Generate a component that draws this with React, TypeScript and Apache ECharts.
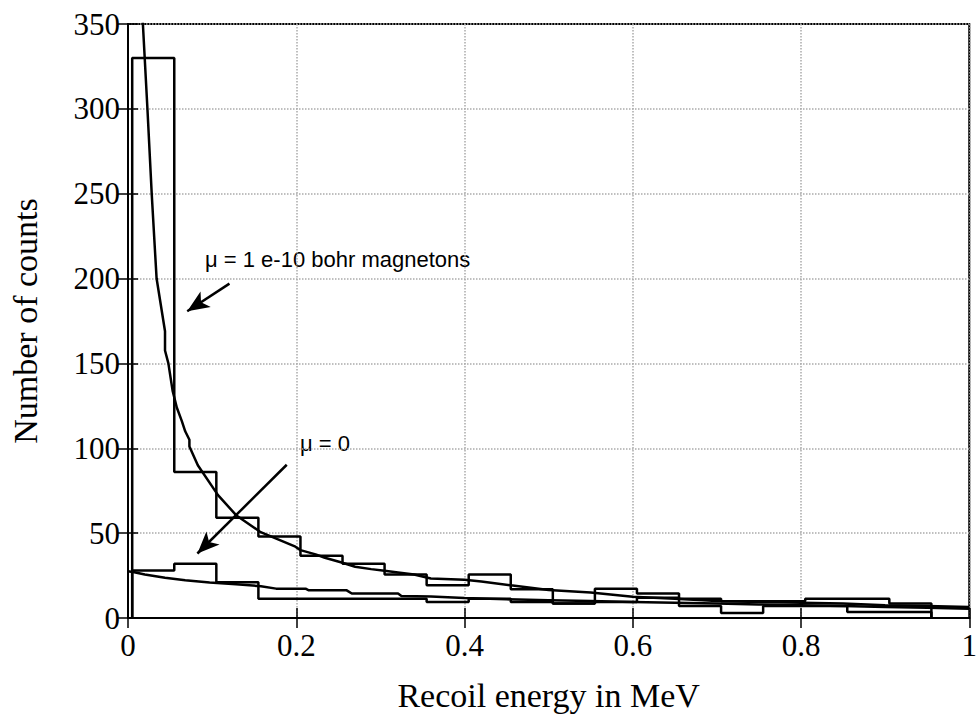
import React, { useEffect, useRef } from "react";
import * as echarts from "echarts";

// Histogram bin edges (MeV) and counts
const binEdges = [0.005, 0.055, 0.105, 0.155, 0.205, 0.255, 0.305, 0.355, 0.405, 0.455, 0.505, 0.555, 0.605, 0.655, 0.705, 0.755, 0.805, 0.855, 0.905, 0.955];
const histMagnetic = [330, 86, 59, 48, 36.7, 32, 25.6, 19.3, 25.6, 17, 8.5, 17.3, 14.4, 11.4, 9.8, 9.8, 11.4, 11.4, 8.5];
const histZero = [28, 32, 21, 11.4, 11.4, 11.4, 11.4, 9.5, 11.4, 9.5, 8.5, 9.5, 12, 7.1, 3, 7.1, 7.1, 3.5, 3.5];

// Theoretical curves
const curveMagX = [0.0145, 0.0177, 0.0232, 0.0283, 0.032, 0.034, 0.044, 0.044, 0.048, 0.053, 0.058, 0.064, 0.068, 0.073, 0.073, 0.083, 0.107, 0.1285, 0.157, 0.199, 0.205, 0.223, 0.234, 0.254, 0.27, 0.289, 0.305, 0.321, 0.34, 0.36, 0.4, 0.42, 0.455, 0.5, 0.55, 0.6, 0.65, 0.7, 0.75, 0.8, 0.85, 0.9, 0.95, 1.0];
const curveMagY = [380, 350, 299, 249, 217, 200, 169, 157.6, 150, 134, 124, 116, 110, 105, 101, 90, 72.4, 60.6, 50.8, 42, 40, 37.5, 35.5, 32.7, 30.2, 28.8, 27.8, 26.8, 25.6, 23.3, 22.5, 21.5, 19.3, 16.5, 15, 12.5, 11.4, 10, 9.5, 9, 8.5, 7.5, 7, 6.5];
const curveZeroX = [0, 0.0075, 0.02, 0.044, 0.068, 0.097, 0.1285, 0.158, 0.176, 0.211, 0.215, 0.26, 0.266, 0.321, 0.325, 0.36, 0.4, 0.45, 0.5, 0.55, 0.6, 0.65, 0.7, 0.75, 0.8, 0.85, 0.9, 0.95, 1.0];
const curveZeroY = [27.5, 27, 25.6, 23.7, 22.3, 20.9, 19.9, 18.7, 17.3, 17.3, 16.3, 16.3, 14.4, 14.4, 13, 12.6, 11.8, 11, 10.5, 10, 9.5, 9, 8.5, 8, 7.5, 7, 6.5, 6, 5.5];

// Annotation arrows [fromX, fromY, toX, toY] in data units
const arrowMag = [0.1206, 197, 0.0704, 180.7];
const arrowZero = [0.1887, 90.3, 0.0825, 38];

const labelMag = "μ = 1 e-10 bohr magnetons";
const labelZero = "μ = 0";

const xTicks = { min: 0, max: 1, interval: 0.2 };
const yTicks = { min: 0, max: 350, interval: 50 };

function stepData(edges: number[], vals: number[]) {
  const pts: number[][] = [];
  const w = edges[1] - edges[0];
  pts.push([edges[0], 0]);
  vals.forEach((v, i) => {
    const x0 = edges[i];
    const x1 = i + 1 < edges.length ? edges[i + 1] : edges[i] + w;
    pts.push([x0, v]);
    pts.push([x1, v]);
  });
  const last = pts[pts.length - 1][0];
  pts.push([last, 0]);
  return pts;
}

const zip = (xs: number[], ys: number[]) => xs.map((x, i) => [x, ys[i]]);

export default function App() {
  const ref = useRef<HTMLDivElement>(null);
  useEffect(() => {
    if (!ref.current) return;
    const chart = echarts.init(ref.current, undefined, { renderer: "svg" });
    const serif = '"Liberation Serif", "Times New Roman", serif';
    const sans = '"Liberation Sans", Arial, sans-serif';
    const gridLine = { show: true, lineStyle: { color: "#aaa", type: [1.5, 1.5] as any, width: 1.5 } };
    const lineStyle = { color: "#000", width: 2.5 };
    const arrowLine = (a: number[]) => [{ coord: [a[0], a[1]] }, { coord: [a[2], a[3]] }];
    chart.setOption({
      animation: false,
      backgroundColor: "#fff",
      grid: { left: 126, right: 6, top: 24, bottom: 98, show: true, borderColor: "#000", borderWidth: 2, backgroundColor: "transparent" },
      xAxis: [
        {
          type: "value", ...xTicks,
          name: "Recoil energy in MeV", nameLocation: "middle", nameGap: 60,
          nameTextStyle: { fontFamily: serif, fontSize: 34, color: "#000" },
          axisLine: { show: true, onZero: false, lineStyle: { color: "#000", width: 2 } },
          axisTick: { show: true, inside: true, length: 10, lineStyle: { color: "#000", width: 1.5 } },
          axisLabel: { fontFamily: serif, fontSize: 31, color: "#000", margin: 12, formatter: (v: number) => String(+v.toFixed(1)) },
          splitLine: gridLine,
        },
        {
          type: "value", ...xTicks, position: "top",
          axisLine: { show: true, lineStyle: { color: "#000", width: 2 } },
          axisTick: { show: true, inside: true, length: 10, lineStyle: { color: "#000", width: 1.5 } },
          axisLabel: { show: false }, splitLine: { show: false },
        },
      ],
      yAxis: [
        {
          type: "value", ...yTicks,
          name: "Number of counts", nameLocation: "middle", nameGap: 86,
          nameTextStyle: { fontFamily: serif, fontSize: 34, color: "#000" },
          axisLine: { show: true, lineStyle: { color: "#000", width: 2 } },
          axisTick: { show: true, inside: true, length: 10, lineStyle: { color: "#000", width: 1.5 } },
          axisLabel: { fontFamily: serif, fontSize: 31, color: "#000", margin: 8 },
          splitLine: gridLine,
        },
        {
          type: "value", ...yTicks, position: "right",
          axisLine: { show: true, lineStyle: { color: "#000", width: 2 } },
          axisTick: { show: true, inside: true, length: 10, lineStyle: { color: "#000", width: 1.5 } },
          axisLabel: { show: false }, splitLine: { show: false },
        },
      ],
      series: [
        { type: "line", name: "hist magnetic", data: stepData(binEdges, histMagnetic), showSymbol: false, lineStyle, itemStyle: { color: "#000" }, clip: true, silent: true },
        { type: "line", name: "hist zero", data: stepData(binEdges, histZero), showSymbol: false, lineStyle, itemStyle: { color: "#000" }, clip: true, silent: true },
        { type: "line", name: "curve magnetic", data: zip(curveMagX, curveMagY), showSymbol: false, lineStyle, itemStyle: { color: "#000" }, clip: true, silent: true },
        {
          type: "line", name: "curve zero", data: zip(curveZeroX, curveZeroY), showSymbol: false, lineStyle, itemStyle: { color: "#000" }, clip: true, silent: true,
          markLine: {
            silent: true, animation: false,
            symbol: ["none", "arrow"], symbolSize: [14, 22],
            label: { show: false },
            lineStyle: { color: "#000", width: 2.5, type: "solid" },
            itemStyle: { color: "#000" },
            data: [arrowLine(arrowMag), arrowLine(arrowZero)],
          },
        },
      ],
      graphic: [
        { type: "text", x: 205, y: 259, style: { text: labelMag, fontFamily: sans, fontSize: 22, fill: "#000", verticalAlign: "middle" } },
        { type: "text", x: 300, y: 443, style: { text: labelZero, fontFamily: sans, fontSize: 22, fill: "#000", verticalAlign: "middle" } },
      ],
    });
    return () => chart.dispose();
  }, []);
  return <div ref={ref} style={{ position: "absolute", left: 0, top: 0, width: 980, height: 717 }} />;
}
